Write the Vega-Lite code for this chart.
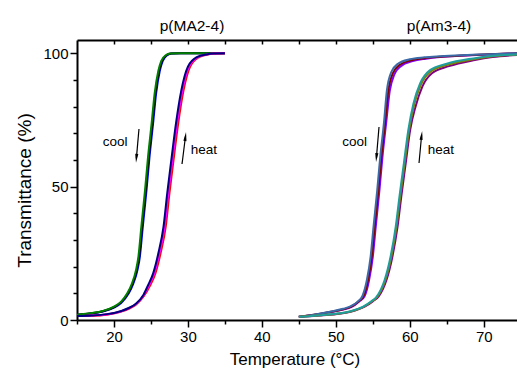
{
  "$schema": "https://vega.github.io/schema/vega-lite/v6.json",
  "width": 440,
  "height": 280,
  "autosize": {"type": "none"},
  "padding": {"left": 77, "top": 40, "right": 0, "bottom": 49},
  "config": {
    "view": {"stroke": null},
    "font": "Liberation Sans",
    "axis": {"domainColor": "black", "tickColor": "black", "labelColor": "black", "titleColor": "black", "grid": false, "domainWidth": 2, "tickWidth": 1.5, "labelFont": "Liberation Sans", "titleFont": "Liberation Sans", "titleFontWeight": "normal"}
  },
  "resolve": {"axis": {"x": "independent", "y": "independent"}},
  "datasets": {
    "curves": [
      {"series": "MA-cool-blue", "T": 15, "tr": 1.9}, {"series": "MA-cool-blue", "T": 17, "tr": 2.4}, {"series": "MA-cool-blue", "T": 18.5, "tr": 3.2}, {"series": "MA-cool-blue", "T": 20, "tr": 4.6}, {"series": "MA-cool-blue", "T": 21, "tr": 6.5}, {"series": "MA-cool-blue", "T": 22, "tr": 10}, {"series": "MA-cool-blue", "T": 22.6, "tr": 13.5}, {"series": "MA-cool-blue", "T": 23.2, "tr": 19}, {"series": "MA-cool-blue", "T": 23.5, "tr": 23.7}, {"series": "MA-cool-blue", "T": 23.9, "tr": 35}, {"series": "MA-cool-blue", "T": 24.4, "tr": 48.7}, {"series": "MA-cool-blue", "T": 24.8, "tr": 61}, {"series": "MA-cool-blue", "T": 25.3, "tr": 74}, {"series": "MA-cool-blue", "T": 25.7, "tr": 85}, {"series": "MA-cool-blue", "T": 26.2, "tr": 93.5}, {"series": "MA-cool-blue", "T": 26.6, "tr": 97.2}, {"series": "MA-cool-blue", "T": 27.2, "tr": 99.3}, {"series": "MA-cool-blue", "T": 27.8, "tr": 99.9}, {"series": "MA-cool-blue", "T": 29, "tr": 100}, {"series": "MA-cool-blue", "T": 35, "tr": 100},
      {"series": "MA-cool-black", "T": 15, "tr": 2.0}, {"series": "MA-cool-black", "T": 17, "tr": 2.5}, {"series": "MA-cool-black", "T": 18.5, "tr": 3.3}, {"series": "MA-cool-black", "T": 20, "tr": 4.8}, {"series": "MA-cool-black", "T": 21, "tr": 6.8}, {"series": "MA-cool-black", "T": 21.9, "tr": 10}, {"series": "MA-cool-black", "T": 22.5, "tr": 13.5}, {"series": "MA-cool-black", "T": 23.1, "tr": 19}, {"series": "MA-cool-black", "T": 23.4, "tr": 23.7}, {"series": "MA-cool-black", "T": 23.8, "tr": 35}, {"series": "MA-cool-black", "T": 24.3, "tr": 48.7}, {"series": "MA-cool-black", "T": 24.7, "tr": 61}, {"series": "MA-cool-black", "T": 25.2, "tr": 74}, {"series": "MA-cool-black", "T": 25.6, "tr": 85}, {"series": "MA-cool-black", "T": 26.1, "tr": 93.5}, {"series": "MA-cool-black", "T": 26.5, "tr": 97.2}, {"series": "MA-cool-black", "T": 27.1, "tr": 99.3}, {"series": "MA-cool-black", "T": 27.7, "tr": 99.9}, {"series": "MA-cool-black", "T": 29, "tr": 100}, {"series": "MA-cool-black", "T": 35, "tr": 100},
      {"series": "MA-cool-green", "T": 15, "tr": 2.0}, {"series": "MA-cool-green", "T": 17, "tr": 2.6}, {"series": "MA-cool-green", "T": 18.5, "tr": 3.4}, {"series": "MA-cool-green", "T": 20, "tr": 5.0}, {"series": "MA-cool-green", "T": 21, "tr": 7.0}, {"series": "MA-cool-green", "T": 21.8, "tr": 10}, {"series": "MA-cool-green", "T": 22.4, "tr": 13.5}, {"series": "MA-cool-green", "T": 23, "tr": 19}, {"series": "MA-cool-green", "T": 23.3, "tr": 23.7}, {"series": "MA-cool-green", "T": 23.7, "tr": 35}, {"series": "MA-cool-green", "T": 24.2, "tr": 48.7}, {"series": "MA-cool-green", "T": 24.6, "tr": 61}, {"series": "MA-cool-green", "T": 25.1, "tr": 74}, {"series": "MA-cool-green", "T": 25.5, "tr": 85}, {"series": "MA-cool-green", "T": 26, "tr": 93.5}, {"series": "MA-cool-green", "T": 26.4, "tr": 97.2}, {"series": "MA-cool-green", "T": 27, "tr": 99.3}, {"series": "MA-cool-green", "T": 27.6, "tr": 99.9}, {"series": "MA-cool-green", "T": 29, "tr": 100}, {"series": "MA-cool-green", "T": 35, "tr": 100},
      {"series": "MA-heat-red", "T": 15, "tr": 1.5}, {"series": "MA-heat-red", "T": 17, "tr": 1.6}, {"series": "MA-heat-red", "T": 19, "tr": 2.0}, {"series": "MA-heat-red", "T": 21, "tr": 3.2}, {"series": "MA-heat-red", "T": 22, "tr": 4.2}, {"series": "MA-heat-red", "T": 23, "tr": 5.8}, {"series": "MA-heat-red", "T": 24, "tr": 8.8}, {"series": "MA-heat-red", "T": 24.9, "tr": 13}, {"series": "MA-heat-red", "T": 25.6, "tr": 17.5}, {"series": "MA-heat-red", "T": 26.3, "tr": 25}, {"series": "MA-heat-red", "T": 27, "tr": 35}, {"series": "MA-heat-red", "T": 27.5, "tr": 47.5}, {"series": "MA-heat-red", "T": 28.1, "tr": 61}, {"series": "MA-heat-red", "T": 28.7, "tr": 74}, {"series": "MA-heat-red", "T": 29.4, "tr": 86}, {"series": "MA-heat-red", "T": 30.3, "tr": 95}, {"series": "MA-heat-red", "T": 31.5, "tr": 98.6}, {"series": "MA-heat-red", "T": 32.7, "tr": 99.6}, {"series": "MA-heat-red", "T": 33.7, "tr": 99.9}, {"series": "MA-heat-red", "T": 35, "tr": 100},
      {"series": "MA-heat-magenta", "T": 15, "tr": 1.5}, {"series": "MA-heat-magenta", "T": 17, "tr": 1.7}, {"series": "MA-heat-magenta", "T": 19, "tr": 2.1}, {"series": "MA-heat-magenta", "T": 21, "tr": 3.3}, {"series": "MA-heat-magenta", "T": 22, "tr": 4.4}, {"series": "MA-heat-magenta", "T": 23, "tr": 6.0}, {"series": "MA-heat-magenta", "T": 24, "tr": 9.2}, {"series": "MA-heat-magenta", "T": 24.75, "tr": 13}, {"series": "MA-heat-magenta", "T": 25.45, "tr": 17.5}, {"series": "MA-heat-magenta", "T": 26.15, "tr": 25}, {"series": "MA-heat-magenta", "T": 26.85, "tr": 35}, {"series": "MA-heat-magenta", "T": 27.35, "tr": 47.5}, {"series": "MA-heat-magenta", "T": 27.95, "tr": 61}, {"series": "MA-heat-magenta", "T": 28.55, "tr": 74}, {"series": "MA-heat-magenta", "T": 29.25, "tr": 86}, {"series": "MA-heat-magenta", "T": 30.15, "tr": 95}, {"series": "MA-heat-magenta", "T": 31.35, "tr": 98.6}, {"series": "MA-heat-magenta", "T": 32.6, "tr": 99.6}, {"series": "MA-heat-magenta", "T": 33.6, "tr": 99.9}, {"series": "MA-heat-magenta", "T": 35, "tr": 100},
      {"series": "MA-heat-navy", "T": 15, "tr": 1.5}, {"series": "MA-heat-navy", "T": 17, "tr": 1.7}, {"series": "MA-heat-navy", "T": 19, "tr": 2.2}, {"series": "MA-heat-navy", "T": 21, "tr": 3.4}, {"series": "MA-heat-navy", "T": 22, "tr": 4.5}, {"series": "MA-heat-navy", "T": 23, "tr": 6.2}, {"series": "MA-heat-navy", "T": 24, "tr": 9.5}, {"series": "MA-heat-navy", "T": 24.6, "tr": 13}, {"series": "MA-heat-navy", "T": 25.3, "tr": 17.5}, {"series": "MA-heat-navy", "T": 26, "tr": 25}, {"series": "MA-heat-navy", "T": 26.7, "tr": 35}, {"series": "MA-heat-navy", "T": 27.2, "tr": 47.5}, {"series": "MA-heat-navy", "T": 27.8, "tr": 61}, {"series": "MA-heat-navy", "T": 28.4, "tr": 74}, {"series": "MA-heat-navy", "T": 29.1, "tr": 86}, {"series": "MA-heat-navy", "T": 30, "tr": 95}, {"series": "MA-heat-navy", "T": 31.2, "tr": 98.6}, {"series": "MA-heat-navy", "T": 32.5, "tr": 99.6}, {"series": "MA-heat-navy", "T": 33.5, "tr": 99.9}, {"series": "MA-heat-navy", "T": 35, "tr": 100},
      {"series": "Am-cool-violet", "T": 45, "tr": 1.2}, {"series": "Am-cool-violet", "T": 47, "tr": 1.9}, {"series": "Am-cool-violet", "T": 49.2, "tr": 2.9}, {"series": "Am-cool-violet", "T": 51, "tr": 3.9}, {"series": "Am-cool-violet", "T": 52.1, "tr": 4.8}, {"series": "Am-cool-violet", "T": 53.2, "tr": 7}, {"series": "Am-cool-violet", "T": 53.9, "tr": 9}, {"series": "Am-cool-violet", "T": 54.5, "tr": 15}, {"series": "Am-cool-violet", "T": 55, "tr": 23.7}, {"series": "Am-cool-violet", "T": 55.4, "tr": 35}, {"series": "Am-cool-violet", "T": 55.9, "tr": 48.7}, {"series": "Am-cool-violet", "T": 56.3, "tr": 61}, {"series": "Am-cool-violet", "T": 56.8, "tr": 73.7}, {"series": "Am-cool-violet", "T": 57.3, "tr": 86}, {"series": "Am-cool-violet", "T": 57.9, "tr": 92}, {"series": "Am-cool-violet", "T": 58.8, "tr": 95.2}, {"series": "Am-cool-violet", "T": 60.4, "tr": 97.1}, {"series": "Am-cool-violet", "T": 62.2, "tr": 98}, {"series": "Am-cool-violet", "T": 64.1, "tr": 98.6}, {"series": "Am-cool-violet", "T": 67, "tr": 99.1}, {"series": "Am-cool-violet", "T": 70, "tr": 99.5}, {"series": "Am-cool-violet", "T": 74.5, "tr": 100},
      {"series": "Am-cool-darkred", "T": 45, "tr": 1.2}, {"series": "Am-cool-darkred", "T": 47, "tr": 2.0}, {"series": "Am-cool-darkred", "T": 49.2, "tr": 3.0}, {"series": "Am-cool-darkred", "T": 51, "tr": 4.0}, {"series": "Am-cool-darkred", "T": 52, "tr": 4.9}, {"series": "Am-cool-darkred", "T": 53.1, "tr": 7}, {"series": "Am-cool-darkred", "T": 53.75, "tr": 9}, {"series": "Am-cool-darkred", "T": 54.35, "tr": 15}, {"series": "Am-cool-darkred", "T": 54.85, "tr": 23.7}, {"series": "Am-cool-darkred", "T": 55.25, "tr": 35}, {"series": "Am-cool-darkred", "T": 55.75, "tr": 48.7}, {"series": "Am-cool-darkred", "T": 56.15, "tr": 61}, {"series": "Am-cool-darkred", "T": 56.65, "tr": 73.7}, {"series": "Am-cool-darkred", "T": 57.1, "tr": 86}, {"series": "Am-cool-darkred", "T": 57.7, "tr": 92.5}, {"series": "Am-cool-darkred", "T": 58.6, "tr": 95.6}, {"series": "Am-cool-darkred", "T": 60.2, "tr": 97.4}, {"series": "Am-cool-darkred", "T": 62, "tr": 98.2}, {"series": "Am-cool-darkred", "T": 64.1, "tr": 98.7}, {"series": "Am-cool-darkred", "T": 67, "tr": 99.2}, {"series": "Am-cool-darkred", "T": 70, "tr": 99.6}, {"series": "Am-cool-darkred", "T": 74.5, "tr": 100},
      {"series": "Am-cool-blue", "T": 45, "tr": 1.2}, {"series": "Am-cool-blue", "T": 47, "tr": 2.0}, {"series": "Am-cool-blue", "T": 49.2, "tr": 3.1}, {"series": "Am-cool-blue", "T": 51, "tr": 4.2}, {"series": "Am-cool-blue", "T": 51.9, "tr": 5.0}, {"series": "Am-cool-blue", "T": 53, "tr": 7}, {"series": "Am-cool-blue", "T": 53.6, "tr": 9}, {"series": "Am-cool-blue", "T": 54.2, "tr": 15}, {"series": "Am-cool-blue", "T": 54.7, "tr": 23.7}, {"series": "Am-cool-blue", "T": 55.1, "tr": 35}, {"series": "Am-cool-blue", "T": 55.6, "tr": 48.7}, {"series": "Am-cool-blue", "T": 56, "tr": 61}, {"series": "Am-cool-blue", "T": 56.5, "tr": 73.7}, {"series": "Am-cool-blue", "T": 56.9, "tr": 86}, {"series": "Am-cool-blue", "T": 57.5, "tr": 93}, {"series": "Am-cool-blue", "T": 58.4, "tr": 96.1}, {"series": "Am-cool-blue", "T": 60, "tr": 97.8}, {"series": "Am-cool-blue", "T": 62, "tr": 98.5}, {"series": "Am-cool-blue", "T": 64.1, "tr": 98.9}, {"series": "Am-cool-blue", "T": 67, "tr": 99.3}, {"series": "Am-cool-blue", "T": 70, "tr": 99.6}, {"series": "Am-cool-blue", "T": 74.5, "tr": 100},
      {"series": "Am-heat-purple", "T": 45, "tr": 1.1}, {"series": "Am-heat-purple", "T": 48, "tr": 1.7}, {"series": "Am-heat-purple", "T": 50.5, "tr": 2.3}, {"series": "Am-heat-purple", "T": 52, "tr": 3.1}, {"series": "Am-heat-purple", "T": 53.9, "tr": 5.0}, {"series": "Am-heat-purple", "T": 55, "tr": 7}, {"series": "Am-heat-purple", "T": 55.75, "tr": 8.7}, {"series": "Am-heat-purple", "T": 56.35, "tr": 11.5}, {"series": "Am-heat-purple", "T": 56.85, "tr": 15}, {"series": "Am-heat-purple", "T": 57.65, "tr": 23.7}, {"series": "Am-heat-purple", "T": 58.35, "tr": 35}, {"series": "Am-heat-purple", "T": 58.85, "tr": 46.2}, {"series": "Am-heat-purple", "T": 59.45, "tr": 58.7}, {"series": "Am-heat-purple", "T": 60.05, "tr": 71.2}, {"series": "Am-heat-purple", "T": 60.8, "tr": 80.2}, {"series": "Am-heat-purple", "T": 61.7, "tr": 87.5}, {"series": "Am-heat-purple", "T": 63, "tr": 92.5}, {"series": "Am-heat-purple", "T": 65.3, "tr": 95.2}, {"series": "Am-heat-purple", "T": 68.8, "tr": 97.5}, {"series": "Am-heat-purple", "T": 71.2, "tr": 98.6}, {"series": "Am-heat-purple", "T": 74.5, "tr": 99.4},
      {"series": "Am-heat-olive", "T": 45, "tr": 1.2}, {"series": "Am-heat-olive", "T": 48, "tr": 1.8}, {"series": "Am-heat-olive", "T": 50.5, "tr": 2.4}, {"series": "Am-heat-olive", "T": 52, "tr": 3.2}, {"series": "Am-heat-olive", "T": 53.8, "tr": 5.0}, {"series": "Am-heat-olive", "T": 54.9, "tr": 7}, {"series": "Am-heat-olive", "T": 55.6, "tr": 8.7}, {"series": "Am-heat-olive", "T": 56.2, "tr": 11.5}, {"series": "Am-heat-olive", "T": 56.7, "tr": 15}, {"series": "Am-heat-olive", "T": 57.5, "tr": 23.7}, {"series": "Am-heat-olive", "T": 58.2, "tr": 35}, {"series": "Am-heat-olive", "T": 58.7, "tr": 46.2}, {"series": "Am-heat-olive", "T": 59.3, "tr": 58.7}, {"series": "Am-heat-olive", "T": 59.9, "tr": 71.2}, {"series": "Am-heat-olive", "T": 60.6, "tr": 80.8}, {"series": "Am-heat-olive", "T": 61.5, "tr": 88.2}, {"series": "Am-heat-olive", "T": 62.8, "tr": 93.1}, {"series": "Am-heat-olive", "T": 65.1, "tr": 95.7}, {"series": "Am-heat-olive", "T": 68.6, "tr": 97.8}, {"series": "Am-heat-olive", "T": 71, "tr": 98.8}, {"series": "Am-heat-olive", "T": 74.5, "tr": 99.5},
      {"series": "Am-heat-teal", "T": 45, "tr": 1.2}, {"series": "Am-heat-teal", "T": 48, "tr": 1.8}, {"series": "Am-heat-teal", "T": 50.5, "tr": 2.5}, {"series": "Am-heat-teal", "T": 52, "tr": 3.3}, {"series": "Am-heat-teal", "T": 53.7, "tr": 5.0}, {"series": "Am-heat-teal", "T": 54.8, "tr": 7}, {"series": "Am-heat-teal", "T": 55.5, "tr": 8.7}, {"series": "Am-heat-teal", "T": 56.1, "tr": 11.5}, {"series": "Am-heat-teal", "T": 56.6, "tr": 15}, {"series": "Am-heat-teal", "T": 57.4, "tr": 23.7}, {"series": "Am-heat-teal", "T": 58.1, "tr": 35}, {"series": "Am-heat-teal", "T": 58.6, "tr": 46.2}, {"series": "Am-heat-teal", "T": 59.2, "tr": 58.7}, {"series": "Am-heat-teal", "T": 59.8, "tr": 71.2}, {"series": "Am-heat-teal", "T": 60.5, "tr": 81.2}, {"series": "Am-heat-teal", "T": 61.4, "tr": 88.7}, {"series": "Am-heat-teal", "T": 62.7, "tr": 93.6}, {"series": "Am-heat-teal", "T": 65, "tr": 96.1}, {"series": "Am-heat-teal", "T": 68.6, "tr": 98.1}, {"series": "Am-heat-teal", "T": 71, "tr": 99}, {"series": "Am-heat-teal", "T": 74.5, "tr": 99.6}
    ],
    "arrows": [
      {"dir": "down", "T0": 23.38, "tr0": 71.6, "T1": 23.03, "tr1": 60.6},
      {"dir": "up", "T0": 29.2, "tr0": 58.5, "T1": 29.67, "tr1": 68.8},
      {"dir": "down", "T0": 55.84, "tr0": 72.4, "T1": 55.49, "tr1": 60.9},
      {"dir": "up", "T0": 61.25, "tr0": 58.9, "T1": 61.6, "tr1": 69.2}
    ],
    "labels": [
      {"label": "cool", "T": 20.14, "tr": 65.2},
      {"label": "heat", "T": 32.17, "tr": 62.2},
      {"label": "cool", "T": 52.53, "tr": 65.2},
      {"label": "heat", "T": 64.22, "tr": 62.2}
    ],
    "titles": [
      {"label": "p(MA2-4)", "T": 30.55, "tr": 108.4},
      {"label": "p(Am3-4)", "T": 63.95, "tr": 108.4}
    ]
  },
  "layer": [
    {
      "data": {"name": "curves"},
      "mark": {"type": "line", "strokeWidth": 2, "interpolate": "monotone", "clip": true},
      "encoding": {
        "x": {"field": "T", "type": "quantitative", "scale": {"domain": [15, 74.5], "nice": false, "zero": false},
          "axis": {"orient": "bottom", "values": [15, 20, 25, 30, 35, 40, 45, 50, 55, 60, 65, 70], "format": "d",
            "labelExpr": "datum.value % 10 === 0 ? datum.label : ''",
            "tickSize": {"condition": {"test": "datum.value % 10 === 0", "value": 7}, "value": 4},
            "labelFontSize": 15, "labelPadding": 2, "title": "Temperature (°C)", "titleFontSize": 17,
            "titleX": 217.5, "titleY": 44, "titleAlign": "center", "titleBaseline": "alphabetic", "labelFlush": false}},
        "y": {"field": "tr", "type": "quantitative", "scale": {"domain": [0, 105], "nice": false, "zero": false},
          "axis": {"orient": "left", "values": [0, 10, 20, 30, 40, 50, 60, 70, 80, 90, 100], "format": "d",
            "labelExpr": "datum.value % 50 === 0 ? datum.label : ''",
            "tickSize": {"condition": {"test": "datum.value % 50 === 0", "value": 7}, "value": 4},
            "labelFontSize": 15, "labelPadding": 2, "title": "Transmittance (%)", "titleFontSize": 19,
            "titleX": -47, "titleY": 150, "titleAngle": 270, "titleAlign": "center", "titleBaseline": "alphabetic", "labelFlush": false}},
        "color": {"field": "series", "type": "nominal", "legend": null,
          "scale": {
            "domain": ["MA-cool-blue", "MA-cool-black", "MA-cool-green", "MA-heat-red", "MA-heat-magenta", "MA-heat-navy", "Am-cool-violet", "Am-cool-darkred", "Am-cool-blue", "Am-heat-purple", "Am-heat-olive", "Am-heat-teal"],
            "range": ["#0000ff", "#000000", "#008000", "#ff0000", "#ff00ff", "#000080", "#8000ff", "#800000", "#3a6aa8", "#800080", "#808000", "#1f9c9c"]}}
      }
    },
    {
      "data": {"values": [{"T": 15}, {"T": 74.5}]},
      "mark": {"type": "point", "opacity": 0},
      "encoding": {
        "x": {"field": "T", "type": "quantitative", "scale": {"domain": [15, 74.5], "nice": false, "zero": false},
          "axis": {"orient": "top", "values": [20, 25, 30, 35, 40, 45, 50, 55, 60, 65, 70], "labels": false, "tickSize": -4, "title": null}}
      }
    },
    {
      "data": {"name": "arrows"},
      "mark": {"type": "rule", "strokeWidth": 1.2, "color": "black"},
      "encoding": {
        "x": {"field": "T0", "type": "quantitative", "scale": {"domain": [15, 74.5], "nice": false, "zero": false}, "axis": null},
        "y": {"field": "tr0", "type": "quantitative", "scale": {"domain": [0, 105], "nice": false, "zero": false}, "axis": null},
        "x2": {"field": "T1"},
        "y2": {"field": "tr1"}
      }
    },
    {
      "data": {"name": "arrows"},
      "transform": [{"filter": "datum.dir === 'down'"}],
      "mark": {"type": "point", "shape": "M-0.35,-1L0.35,-1L0,1Z", "filled": true, "color": "black", "size": 80, "angle": 5, "opacity": 1},
      "encoding": {
        "x": {"field": "T1", "type": "quantitative", "scale": {"domain": [15, 74.5], "nice": false, "zero": false}, "axis": null},
        "y": {"field": "tr1", "type": "quantitative", "scale": {"domain": [0, 105], "nice": false, "zero": false}, "axis": null}
      }
    },
    {
      "data": {"name": "arrows"},
      "transform": [{"filter": "datum.dir === 'up'"}],
      "mark": {"type": "point", "shape": "M-0.35,1L0.35,1L0,-1Z", "filled": true, "color": "black", "size": 80, "angle": 7, "opacity": 1},
      "encoding": {
        "x": {"field": "T1", "type": "quantitative", "scale": {"domain": [15, 74.5], "nice": false, "zero": false}, "axis": null},
        "y": {"field": "tr1", "type": "quantitative", "scale": {"domain": [0, 105], "nice": false, "zero": false}, "axis": null}
      }
    },
    {
      "data": {"name": "labels"},
      "mark": {"type": "text", "fontSize": 13.5, "align": "center", "baseline": "alphabetic", "color": "black", "font": "Liberation Sans"},
      "encoding": {
        "x": {"field": "T", "type": "quantitative", "scale": {"domain": [15, 74.5], "nice": false, "zero": false}, "axis": null},
        "y": {"field": "tr", "type": "quantitative", "scale": {"domain": [0, 105], "nice": false, "zero": false}, "axis": null},
        "text": {"field": "label"}
      }
    },
    {
      "data": {"name": "titles"},
      "mark": {"type": "text", "fontSize": 15.5, "align": "center", "baseline": "alphabetic", "color": "black", "font": "Liberation Sans"},
      "encoding": {
        "x": {"field": "T", "type": "quantitative", "scale": {"domain": [15, 74.5], "nice": false, "zero": false}, "axis": null},
        "y": {"field": "tr", "type": "quantitative", "scale": {"domain": [0, 105], "nice": false, "zero": false}, "axis": null},
        "text": {"field": "label"}
      }
    }
  ]
}
